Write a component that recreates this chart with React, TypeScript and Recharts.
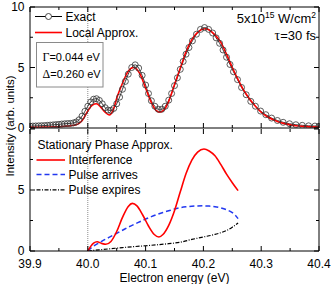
import React from 'react';
import { LineChart, Line, XAxis, YAxis, ReferenceLine, Legend } from 'recharts';

const FONT = '"Liberation Sans", Arial, Helvetica, sans-serif';
const SERIF = '"Liberation Serif", "Times New Roman", serif';

// ---- axes ----
const xTicks = [39.9, 39.95, 40.0, 40.05, 40.1, 40.15, 40.2, 40.25, 40.3, 40.35, 40.4];
const yTicks = [0, 2.5, 5, 7.5, 10];
const topYLabels = [0, 5, 10];
const bottomYLabels = [0, 5];

// ---- top panel: Exact (circles) ----
const exactEnergy = [
  39.900, 39.905, 39.910, 39.915, 39.920, 39.925, 39.930, 39.935, 39.940, 39.945,
  39.950, 39.955, 39.960, 39.965, 39.970, 39.975, 39.980, 39.985, 39.990, 39.995,
  40.000, 40.005, 40.010, 40.015, 40.020, 40.025, 40.030, 40.035, 40.040, 40.045,
  40.050, 40.055, 40.060, 40.065, 40.070, 40.076, 40.082, 40.088, 40.094, 40.100,
  40.105, 40.110, 40.116, 40.122, 40.128, 40.134, 40.140, 40.145, 40.150, 40.155,
  40.160, 40.165, 40.170, 40.175, 40.181, 40.188, 40.195, 40.202, 40.209, 40.216,
  40.222, 40.228, 40.234, 40.240, 40.246, 40.252, 40.259, 40.266, 40.274, 40.282,
  40.290, 40.299, 40.308, 40.318, 40.328, 40.338, 40.349, 40.360, 40.371, 40.382,
  40.393, 40.400,
];
const exactIntensity = [
  0.15, 0.16, 0.17, 0.18, 0.19, 0.20, 0.22, 0.24, 0.26, 0.28,
  0.30, 0.33, 0.35, 0.37, 0.38, 0.42, 0.50, 0.68, 0.98, 1.38,
  1.80, 2.15, 2.38, 2.42, 2.28, 2.00, 1.68, 1.48, 1.45, 1.62,
  2.00, 2.55, 3.20, 3.85, 4.45, 5.00, 5.22, 4.95, 4.35, 3.55,
  2.85, 2.25, 1.80, 1.55, 1.55, 1.80, 2.30, 2.85, 3.50, 4.15,
  4.85, 5.50, 6.10, 6.65, 7.20, 7.75, 8.15, 8.30, 8.15, 7.85,
  7.45, 7.00, 6.45, 5.85, 5.25, 4.65, 4.00, 3.35, 2.75, 2.20,
  1.80, 1.40, 1.10, 0.82, 0.62, 0.47, 0.35, 0.27, 0.22, 0.18,
  0.16, 0.15,
];

// ---- top panel: Local Approx. ----
const localEnergy = [
  39.90, 39.92, 39.94, 39.96, 39.97, 39.98, 39.99, 40.00, 40.008, 40.015,
  40.022, 40.03, 40.037, 40.044, 40.051, 40.06, 40.07, 40.079, 40.09, 40.10,
  40.11, 40.118, 40.125, 40.132, 40.14, 40.15, 40.16, 40.17, 40.18, 40.19,
  40.203, 40.21, 40.22, 40.23, 40.24, 40.25, 40.26, 40.27, 40.28, 40.29,
  40.30, 40.31, 40.32, 40.33, 40.34, 40.35, 40.36, 40.37, 40.38, 40.39,
  40.40,
];
const localIntensity = [
  0.05, 0.07, 0.10, 0.15, 0.19, 0.27, 0.60, 1.40, 1.90, 2.00,
  1.75, 1.30, 1.08, 1.50, 2.60, 3.70, 4.70, 5.00, 4.50, 3.30,
  2.10, 1.45, 1.30, 1.50, 2.20, 3.60, 4.95, 6.30, 7.30, 7.90,
  8.20, 8.10, 7.70, 7.10, 6.10, 5.00, 4.00, 3.10, 2.40, 1.80,
  1.30, 0.95, 0.70, 0.50, 0.36, 0.26, 0.19, 0.14, 0.11, 0.09,
  0.08,
];

// ---- bottom panel: Stationary Phase Approx. ----
const interfEnergy = [
  40.000, 40.005, 40.010, 40.016, 40.024, 40.031, 40.040, 40.050, 40.060, 40.070,
  40.077, 40.085, 40.095, 40.105, 40.115, 40.123, 40.130, 40.140, 40.150, 40.160,
  40.170, 40.180, 40.190, 40.201, 40.210, 40.220, 40.230, 40.240, 40.250, 40.260,
];
const interfIntensity = [
  0, 0.38, 0.65, 0.76, 0.62, 0.55, 0.78, 1.60, 2.75, 3.65,
  3.90, 3.70, 2.95, 2.05, 1.35, 1.15, 1.35, 2.10, 3.30, 4.85,
  6.35, 7.45, 8.10, 8.36, 8.20, 7.80, 7.10, 6.30, 5.60, 4.95,
];

const arrivesEnergy = [
  40.000, 40.005, 40.010, 40.020, 40.030, 40.040, 40.050, 40.060, 40.070, 40.080,
  40.090, 40.100, 40.110, 40.120, 40.130, 40.140, 40.150, 40.160, 40.170, 40.180,
  40.190, 40.200, 40.210, 40.220, 40.230, 40.240, 40.250, 40.255, 40.260,
];
const arrivesIntensity = [
  0, 0.22, 0.40, 0.68, 0.95, 1.20, 1.45, 1.70, 1.95, 2.18,
  2.40, 2.62, 2.82, 3.00, 3.16, 3.30, 3.44, 3.55, 3.62, 3.67,
  3.69, 3.70, 3.68, 3.63, 3.53, 3.38, 3.15, 2.95, 2.65,
];

const expiresEnergy = [
  40.00, 40.02, 40.04, 40.06, 40.08, 40.10, 40.12, 40.14, 40.16, 40.18,
  40.20, 40.22, 40.24, 40.25, 40.26,
];
const expiresIntensity = [
  0, 0.10, 0.19, 0.28, 0.36, 0.43, 0.51, 0.60, 0.72, 0.95,
  1.15, 1.36, 1.68, 1.95, 2.30,
];

const zip = (xs: number[], ys: number[]) => xs.map((x, i) => ({ x, y: ys[i] }));
const exactData = zip(exactEnergy, exactIntensity);
const localData = zip(localEnergy, localIntensity);
const interfData = zip(interfEnergy, interfIntensity);
const arrivesData = zip(arrivesEnergy, arrivesIntensity);
const expiresData = zip(expiresEnergy, expiresIntensity);

const isMajorX = (v: number) => Math.abs(v * 10 - Math.round(v * 10)) < 1e-6;
const isMajorY = (v: number) => Math.abs(v / 5 - Math.round(v / 5)) < 1e-6;

const W = 331;
const LEFT_W = 30;
const RIGHT_W = 12;

const xTickBottom = (showLabel: boolean) => (p: any) => {
  const v = p.payload.value;
  const major = isMajorX(v);
  return (
    <g>
      <line x1={p.x} x2={p.x} y1={p.y} y2={p.y - (major ? 5 : 3)} stroke="#000" strokeWidth={1} />
      {showLabel && major && (
        <text x={p.x} y={p.y + 17} textAnchor="middle" fontSize={12} fill="#000" fontFamily={FONT}>
          {v.toFixed(1)}
        </text>
      )}
    </g>
  );
};

const xTickTop = (p: any) => {
  const major = isMajorX(p.payload.value);
  return <line x1={p.x} x2={p.x} y1={p.y} y2={p.y + (major ? 5 : 3)} stroke="#000" strokeWidth={1} />;
};

const yTickLeft = (labels: number[]) => (p: any) => {
  const v = p.payload.value;
  const major = isMajorY(v);
  return (
    <g>
      <line x1={p.x} x2={p.x + (major ? 5 : 3)} y1={p.y} y2={p.y} stroke="#000" strokeWidth={1} />
      {labels.includes(v) && (
        <text x={p.x - 5.5} y={p.y + 4.3} textAnchor="end" fontSize={12} fill="#000" fontFamily={FONT}>
          {v}
        </text>
      )}
    </g>
  );
};

const yTickRight = (p: any) => {
  const major = isMajorY(p.payload.value);
  return <line x1={p.x} x2={p.x - (major ? 5 : 3)} y1={p.y} y2={p.y} stroke="#000" strokeWidth={1} />;
};

const axisCommonX = {
  type: 'number' as const,
  dataKey: 'x',
  domain: [39.9, 40.4] as [number, number],
  ticks: xTicks,
  interval: 0 as const,
  tickSize: 0,
  tickMargin: 0,
  allowDataOverflow: true,
  allowDuplicatedCategory: false,
};
const axisCommonY = {
  type: 'number' as const,
  domain: [0, 10] as [number, number],
  ticks: yTicks,
  interval: 0 as const,
  tickSize: 0,
  tickMargin: 0,
  allowDataOverflow: true,
};

const TOP_H = 140;
const TOP_PLOT_BOTTOM = 128;

const TopLegend = () => (
  <svg width={W} height={TOP_PLOT_BOTTOM} style={{ position: 'absolute', left: 0, top: 0, overflow: 'visible' }}>
    <line x1={35} x2={62} y1={16.5} y2={16.5} stroke="#000" strokeWidth={1} />
    <circle cx={48.5} cy={16.5} r={3} fill="#fff" stroke="#333" strokeWidth={0.9} />
    <text x={65.5} y={20.8} fontSize={12} fill="#000" fontFamily={FONT}>Exact</text>
    <line x1={35} x2={62} y1={32.5} y2={32.5} stroke="#ff0000" strokeWidth={1.6} />
    <text x={65.5} y={36.8} fontSize={12} fill="#000" fontFamily={FONT}>Local Approx.</text>
    <rect x={36.5} y={42.5} width={66.5} height={44.5} fill="#fff" stroke="#8a8a8a" strokeWidth={1} />
    <text x={42.5} y={60.5} fontSize={11} fill="#000" fontFamily={FONT}>
      <tspan fontFamily={SERIF} fontSize={12}>Γ</tspan>=0.044 eV
    </text>
    <text x={42.5} y={77.8} fontSize={11} fill="#000" fontFamily={FONT}>
      <tspan fontFamily={SERIF} fontSize={12}>Δ</tspan>=0.260 eV
    </text>
    <text x={316} y={22.5} textAnchor="end" fontSize={13} fill="#000" fontFamily={FONT}>
      5x10<tspan dy={-5} fontSize={8.5}>15</tspan>
      <tspan dy={5}> W/cm</tspan>
      <tspan dy={-5} fontSize={8.5}>2</tspan>
    </text>
    <text x={316} y={39.8} textAnchor="end" fontSize={13} fill="#000" fontFamily={FONT}>
      <tspan fontFamily={SERIF} fontSize={14}>τ</tspan>=30 fs
    </text>
  </svg>
);

const BottomLegend = () => (
  <svg width={W} height={156} style={{ position: 'absolute', left: 0, top: 0, overflow: 'visible' }}>
    <text x={37.5} y={21.3} fontSize={12} fill="#000" fontFamily={FONT}>Stationary Phase Approx.</text>
    <line x1={36.5} x2={65} y1={32} y2={32} stroke="#ff0000" strokeWidth={1.6} />
    <text x={68.5} y={36.3} fontSize={12} fill="#000" fontFamily={FONT}>Interference</text>
    <line x1={36.5} x2={65} y1={46.5} y2={46.5} stroke="#2238f0" strokeWidth={1.5} strokeDasharray="5 3" />
    <text x={68.5} y={50.8} fontSize={12} fill="#000" fontFamily={FONT}>Pulse arrives</text>
    <line x1={36.5} x2={65} y1={61.8} y2={61.8} stroke="#000" strokeWidth={1.2} strokeDasharray="4 1.5 1 1.5" />
    <text x={68.5} y={66.1} fontSize={12} fill="#000" fontFamily={FONT}>Pulse expires</text>
  </svg>
);

const TopChart = () => (
  <LineChart width={W} height={TOP_H} margin={{ top: 0, right: 0, bottom: 0, left: 0 }}>
    <XAxis xAxisId="b" {...axisCommonX} height={TOP_H - TOP_PLOT_BOTTOM} tick={xTickBottom(false)} axisLine={{ stroke: '#000' }} />
    <XAxis xAxisId="t" orientation="top" {...axisCommonX} height={7} tick={xTickTop} axisLine={{ stroke: '#000' }} />
    <YAxis yAxisId="l" {...axisCommonY} width={LEFT_W} tick={yTickLeft(topYLabels)} axisLine={{ stroke: '#000' }} />
    <YAxis yAxisId="r" orientation="right" {...axisCommonY} width={RIGHT_W} tick={yTickRight} axisLine={{ stroke: '#000' }} />
    <ReferenceLine xAxisId="b" yAxisId="l" x={40} stroke="#8c8c8c" strokeDasharray="1 1" />
    <Line
      xAxisId="b" yAxisId="l" data={exactData} dataKey="y" type="monotone"
      stroke="#222" strokeWidth={0.9}
      dot={{ r: 3, stroke: '#333', strokeWidth: 0.8, fill: 'none' }}
      activeDot={false} isAnimationActive={false} name="Exact"
    />
    <Line
      xAxisId="b" yAxisId="l" data={localData} dataKey="y" type="monotone"
      stroke="#ff0000" strokeWidth={1.6} dot={false} activeDot={false}
      isAnimationActive={false} name="Local Approx."
    />
    <Legend
      layout="vertical" align="center" verticalAlign="middle"
      wrapperStyle={{ position: 'absolute', left: 0, top: 0, width: W, height: TOP_PLOT_BOTTOM }}
      content={() => <TopLegend />}
    />
  </LineChart>
);

const BottomChart = () => (
  <LineChart width={W} height={156} margin={{ top: 0, right: 0, bottom: 0, left: 0 }}>
    <XAxis
      xAxisId="b" {...axisCommonX} height={33} tick={xTickBottom(true)} axisLine={{ stroke: '#000' }}
      label={{ value: 'Electron energy (eV)', position: 'insideBottom', offset: 2, fill: '#000', fontSize: 12, fontFamily: FONT }}
    />
    <XAxis xAxisId="t" orientation="top" {...axisCommonX} height={1} tick={xTickTop} axisLine={false} />
    <YAxis yAxisId="l" {...axisCommonY} width={LEFT_W} tick={yTickLeft(bottomYLabels)} axisLine={{ stroke: '#000' }} />
    <YAxis yAxisId="r" orientation="right" {...axisCommonY} width={RIGHT_W} tick={yTickRight} axisLine={{ stroke: '#000' }} />
    <ReferenceLine xAxisId="b" yAxisId="l" x={40} stroke="#8c8c8c" strokeDasharray="1 1" />
    <Line
      xAxisId="b" yAxisId="l" data={expiresData} dataKey="y" type="monotone"
      stroke="#000" strokeWidth={1.2} strokeDasharray="4 1.5 1 1.5" dot={false} activeDot={false}
      isAnimationActive={false} name="Pulse expires"
    />
    <Line
      xAxisId="b" yAxisId="l" data={arrivesData} dataKey="y" type="monotone"
      stroke="#2238f0" strokeWidth={1.5} strokeDasharray="5 3" dot={false} activeDot={false}
      isAnimationActive={false} name="Pulse arrives"
    />
    <Line
      xAxisId="b" yAxisId="l" data={interfData} dataKey="y" type="monotone"
      stroke="#ff0000" strokeWidth={1.6} dot={false} activeDot={false}
      isAnimationActive={false} name="Interference"
    />
    <Legend
      layout="vertical" align="center" verticalAlign="middle"
      wrapperStyle={{ position: 'absolute', left: 0, top: 0, width: W, height: 156 }}
      content={() => <BottomLegend />}
    />
  </LineChart>
);

export default function App() {
  return (
    <div style={{ position: 'absolute', left: 0, top: 0, width: W, height: 284, background: '#fff', fontFamily: FONT }}>
      <div style={{ position: 'absolute', left: 0, top: 128 }}>
        <BottomChart />
      </div>
      <div style={{ position: 'absolute', left: 0, top: 0 }}>
        <TopChart />
      </div>
      <svg width={W} height={284} style={{ position: 'absolute', left: 0, top: 0, pointerEvents: 'none' }}>
        <text transform="translate(13.5,126) rotate(-90)" textAnchor="middle" fontSize={11.5} fill="#000" fontFamily={FONT}>
          Intensity (arb. units)
        </text>
      </svg>
    </div>
  );
}
